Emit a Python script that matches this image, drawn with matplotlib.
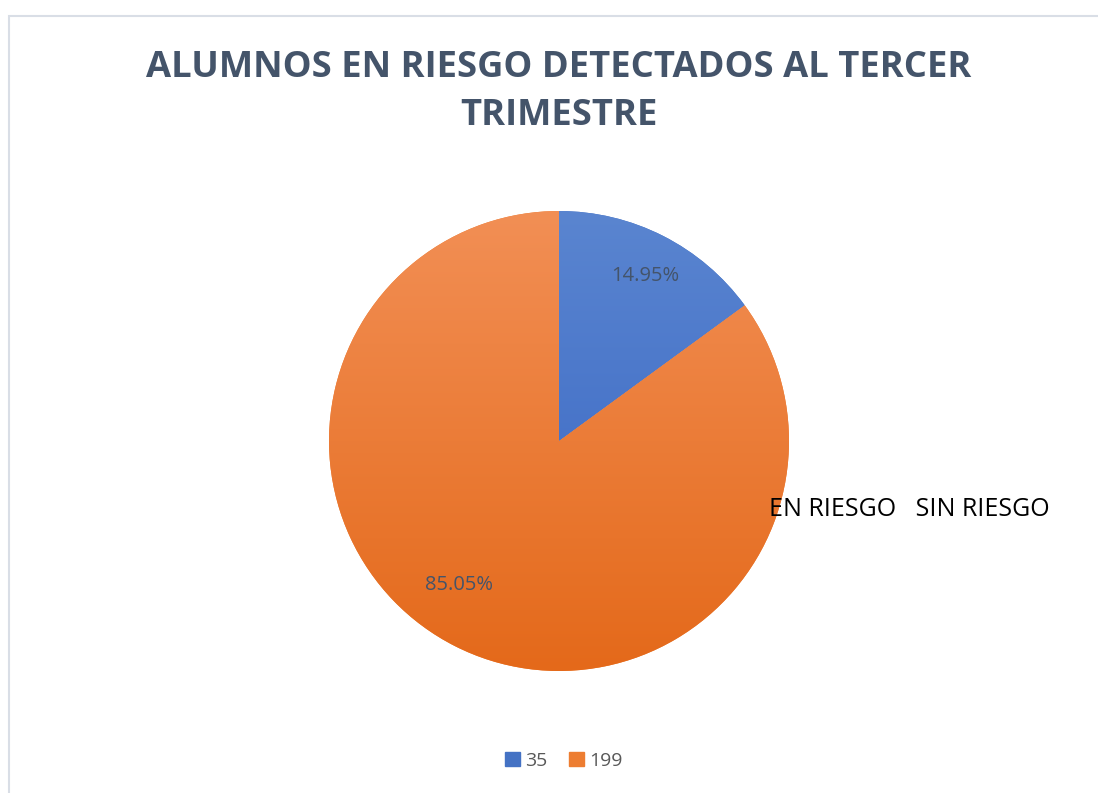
import numpy as np
import matplotlib
matplotlib.use("Agg")
import matplotlib.pyplot as plt
from matplotlib.colors import LinearSegmentedColormap
from matplotlib.patches import Rectangle

matplotlib.rcParams['font.family'] = ['Open Sans', 'DejaVu Sans']

title = "ALUMNOS EN RIESGO DETECTADOS AL TERCER\nTRIMESTRE"
counts = [35, 199]
pcts = ["14.95%", "85.05%"]
legend_labels = ["35", "199"]
side_text = "EN RIESGO   SIN RIESGO"
# top / bottom colours of each slice gradient
grad_colors = [("#5a85d0", "#3563c2"), ("#f28f55", "#e4691a")]
solid_colors = ["#4472c4", "#ed7d31"]

fig = plt.figure(figsize=(10.98, 7.93), dpi=100)

# chart frame
fig.patches.append(Rectangle((9 / 1098, -0.1), 1.2, (793 - 16) / 793 + 0.1,
                             transform=fig.transFigure, fill=False,
                             edgecolor="#d9dee6", linewidth=1.5))

fig.text(559 / 1098, 1 - 92 / 793, title, ha="center", va="center",
         fontsize=26.2, fontweight="bold", color="#44546a", linespacing=1.42)

r = 230
cx, cy = 559, 441
ax = fig.add_axes([(cx - r) / 1098, 1 - (cy + r) / 793, 2 * r / 1098, 2 * r / 793])
wedges, _ = ax.pie(counts, startangle=90, counterclock=False, colors=solid_colors,
                   radius=1, wedgeprops=dict(linewidth=0))
ax.set_xlim(-1, 1)
ax.set_ylim(-1, 1)
ax.set_aspect("equal")
ax.axis("off")

grad = np.linspace(0, 1, 256).reshape(-1, 1)
for w, (c_top, c_bot) in zip(wedges, grad_colors):
    cmap = LinearSegmentedColormap.from_list("g", [c_top, c_bot])
    im = ax.imshow(grad, cmap=cmap, extent=[-1, 1, -1, 1], origin="upper",
                   aspect="auto", zorder=2)
    im.set_clip_path(w)

label_pos = [(645, 276), (459, 585)]
for txt, (px, py) in zip(pcts, label_pos):
    fig.text(px / 1098, 1 - py / 793, txt, ha="center", va="center",
             fontsize=14.5, color="#44546a", zorder=5)

fig.text(769 / 1098, 1 - 509 / 793, side_text, ha="left", va="center",
         fontsize=18, color="black")

handles = [Rectangle((0, 0), 1, 1, color=c) for c in solid_colors]
fig.legend(handles, legend_labels, loc="center", bbox_to_anchor=(564 / 1098, 1 - 761 / 793),
           ncol=2, frameon=False, fontsize=14, handlelength=0.75, handleheight=0.75,
           handletextpad=0.3, columnspacing=1.1, labelcolor="#595959")

fig.savefig("out.png", dpi=100, facecolor="white")
plt.close(fig)
